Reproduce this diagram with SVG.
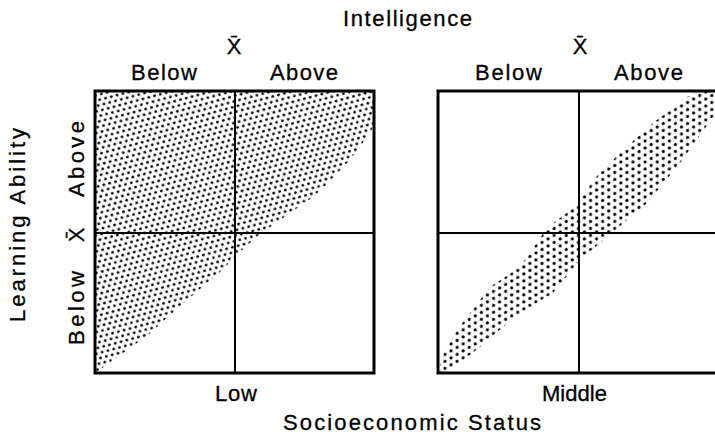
<svg xmlns="http://www.w3.org/2000/svg" width="715" height="439" viewBox="0 0 715 439">
<style>
text{font-family:"Liberation Sans",Arial,sans-serif;fill:#000;font-size:22px;stroke:#000;stroke-width:0.3}
.frame{fill:none;stroke:#000;stroke-width:3}
.div{fill:none;stroke:#000;stroke-width:2}
</style>
<defs>
<pattern id="dotsA" width="6" height="10.4" patternUnits="userSpaceOnUse" patternTransform="rotate(-15)">
<circle cx="1.5" cy="2.6" r="1.35" fill="#000"/>
<circle cx="4.5" cy="7.8" r="1.35" fill="#000"/>
</pattern>
<pattern id="dotsB" width="7" height="12.1" patternUnits="userSpaceOnUse" patternTransform="rotate(-30)">
<circle cx="1.7" cy="3" r="1.6" fill="#000"/>
<circle cx="5.2" cy="9.05" r="1.6" fill="#000"/>
</pattern>
</defs>
<rect width="715" height="439" fill="#fff"/>

<g id="labels-top">
<text x="343" y="26" font-size="19" textLength="129" lengthAdjust="spacing">Intelligence</text>
<text x="234" y="54" text-anchor="middle">X̄</text>
<text x="131" y="80" textLength="66" lengthAdjust="spacing">Below</text>
<text x="270" y="80" textLength="68" lengthAdjust="spacing">Above</text>
<text x="580" y="54" text-anchor="middle">X̄</text>
<text x="475" y="80" textLength="67" lengthAdjust="spacing">Below</text>
<text x="614" y="80" textLength="69" lengthAdjust="spacing">Above</text>
</g>

<g id="labels-left">
<text transform="translate(25,225) rotate(-90)" text-anchor="middle" textLength="194" lengthAdjust="spacing">Learning Ability</text>
<text transform="translate(84,159) rotate(-90)" text-anchor="middle" textLength="76" lengthAdjust="spacing">Above</text>
<text transform="translate(84,235) rotate(-90)" text-anchor="middle">X̄</text>
<text transform="translate(84,308) rotate(-90)" text-anchor="middle" textLength="74" lengthAdjust="spacing">Below</text>
</g>

<g id="labels-bottom">
<text x="215" y="401" textLength="42" lengthAdjust="spacing">Low</text>
<text x="542" y="401" textLength="65" lengthAdjust="spacing">Middle</text>
<text x="283" y="430" textLength="258" lengthAdjust="spacing">Socioeconomic Status</text>
</g>

<g id="panel-low">
<path fill="url(#dotsA)" d="M95,91 H374 V126 L360,147 L347,163 L330,181 L313,197 L280,220 L260,234 L240,252 L220,272 L180,306 L147,336 L113,360 L97,372 H95 Z"/>
<rect class="frame" x="95" y="91" width="279" height="282"/>
<line class="div" x1="235" y1="91" x2="235" y2="373"/>
<line class="div" x1="95" y1="233" x2="374" y2="233"/>
</g>

<g id="panel-middle">
<path fill="url(#dotsB)" d="M440,372 L440,362 L442,357 L457,330 L490,287 L520,267 L547,228 L577,205 L593,180 L620,153 L653,123 L687,97 L697,92 L715,92 L715,116 L713,117 L680,163 L647,203 L607,237 L580,260 L553,293 L530,307 L503,327 L480,347 L453,368 L446,372 Z"/>
<path class="frame" d="M716,91 H438 V373 H716" stroke-width="2.6"/>
<line class="div" x1="579" y1="91" x2="579" y2="373"/>
<line class="div" x1="438" y1="233" x2="715" y2="233"/>
</g>
</svg>
